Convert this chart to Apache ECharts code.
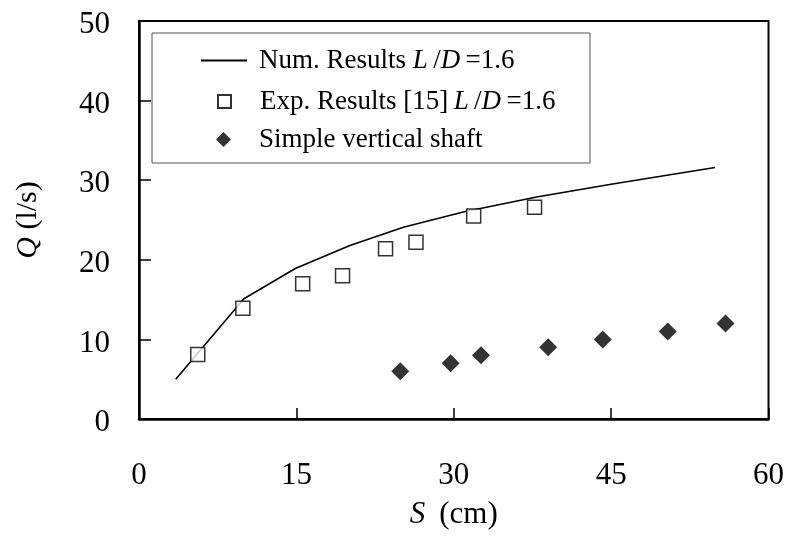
<!DOCTYPE html>
<html>
<head>
<meta charset="utf-8">
<script src="https://cdn.jsdelivr.net/npm/echarts@6/dist/echarts.min.js"></script>
<style>
  html, body { margin: 0; padding: 0; background: #fff; }
  #chart { width: 787px; height: 536px; }
</style>
</head>
<body>
<div id="chart"></div>
<script>
// Discharge Q (l/s) against submergence S (cm)
const numS = [3.5, 10, 14.9, 20.1, 25.2, 30.9, 37.9, 45, 54.9];
const numQ = [5.0, 15.1, 18.9, 21.8, 24.1, 26.0, 27.9, 29.5, 31.6];

const expS = [5.6, 9.9, 15.6, 19.4, 23.5, 26.4, 31.9, 37.7];
const expQ = [8.1, 13.9, 17.0, 18.0, 21.4, 22.2, 25.5, 26.6];

const shaftS = [24.9, 29.7, 32.6, 39.0, 44.2, 50.4, 55.9];
const shaftQ = [6.0, 7.0, 8.0, 9.0, 10.0, 11.0, 12.0];

const xTicks = [0, 15, 30, 45, 60];
const yTicks = [0, 10, 20, 30, 40, 50];

const THIN = '\u2009';
const seriesNames = [
  'Num. Results {i|L}{s|' + THIN + '/}{i|D}{s|' + THIN + '=1.6}',
  'Exp. Results [15]' + THIN + '{i|L}{s|' + THIN + '/}{i|D}{s|' + THIN + '=1.6}',
  'Simple vertical shaft'
];

const FONT = '"Liberation Serif", "Times New Roman", serif';
const pair = (xs, ys) => xs.map((x, i) => [x, ys[i]]);

const legendText = (padLeft) => ({
  fontFamily: FONT, fontSize: 27, color: '#000', padding: [0, 0, 0, padLeft],
  rich: {
    i: { fontFamily: FONT, fontSize: 27, fontStyle: 'italic', color: '#000' },
    s: { fontFamily: FONT, fontSize: 27, color: '#000' }
  }
});

const chart = echarts.init(document.getElementById('chart'), null, { renderer: 'canvas' });

chart.setOption({
  animation: false,
  backgroundColor: '#fff',
  textStyle: { fontFamily: FONT, color: '#000' },
  grid: {
    left: 139, right: 18, top: 21, bottom: 117,
    show: true, borderColor: '#000', borderWidth: 2, backgroundColor: 'transparent'
  },
  graphic: [{
    type: 'rect',
    shape: { x: 152, y: 33, width: 438, height: 130 },
    style: { fill: '#fff', stroke: '#555', lineWidth: 1 },
    z: 5
  }],
  // one legend per entry so each key keeps its own icon size
  legend: [
    {
      left: 196, top: 42, itemWidth: 46, itemHeight: 2, z: 10,
      icon: 'rect',
      textStyle: legendText(7),
      data: [{ name: seriesNames[0] }]
    },
    {
      left: 212, top: 83, itemWidth: 13, itemHeight: 13, z: 10,
      textStyle: legendText(24),
      data: [{ name: seriesNames[1] }]
    },
    {
      left: 211, top: 121, itemWidth: 15, itemHeight: 15, z: 10,
      textStyle: legendText(23),
      data: [{ name: seriesNames[2] }]
    }
  ],
  xAxis: {
    type: 'value',
    min: xTicks[0], max: xTicks[xTicks.length - 1], interval: 15,
    name: '{i|S}' + THIN + ' (cm)',
    nameLocation: 'middle', nameGap: 80,
    nameTextStyle: {
      fontFamily: FONT, fontSize: 31, color: '#000',
      rich: { i: { fontFamily: FONT, fontSize: 31, fontStyle: 'italic', color: '#000' } }
    },
    axisLine: { show: true, lineStyle: { color: '#000', width: 2.5 } },
    axisTick: { show: true, inside: true, length: 11, lineStyle: { color: '#000', width: 1.5 } },
    axisLabel: { margin: 41, fontFamily: FONT, fontSize: 31, color: '#000' },
    splitLine: { show: false }
  },
  yAxis: {
    type: 'value',
    min: yTicks[0], max: yTicks[yTicks.length - 1], interval: 10,
    name: '{i|Q} (l/s)',
    nameLocation: 'middle', nameGap: 96,
    nameTextStyle: {
      fontFamily: FONT, fontSize: 30, color: '#000',
      rich: { i: { fontFamily: FONT, fontSize: 30, fontStyle: 'italic', color: '#000' } }
    },
    axisLine: { show: true, lineStyle: { color: '#000', width: 2.5 } },
    axisTick: { show: true, inside: true, length: 12, lineStyle: { color: '#000', width: 1.5 } },
    axisLabel: {
      margin: 29, fontFamily: FONT, fontSize: 31, color: '#000',
      formatter: (v) => '{n|' + v + '}',
      rich: { n: { fontFamily: FONT, fontSize: 31, color: '#000', padding: [8, 0, 0, 0] } }
    },
    splitLine: { show: false }
  },
  series: [
    {
      name: seriesNames[0],
      type: 'line',
      data: pair(numS, numQ),
      symbol: 'none',
      lineStyle: { color: '#000', width: 1.6 },
      itemStyle: { color: '#000' },
      z: 3
    },
    {
      name: seriesNames[1],
      type: 'scatter',
      data: pair(expS, expQ),
      symbol: 'rect',
      symbolSize: 14,
      itemStyle: { color: '#fff', borderColor: '#000', borderWidth: 1.5 },
      z: 4
    },
    {
      name: seriesNames[2],
      type: 'scatter',
      data: pair(shaftS, shaftQ),
      symbol: 'diamond',
      symbolSize: 18,
      itemStyle: { color: '#000' },
      z: 4
    }
  ]
});
</script>
</body>
</html>
